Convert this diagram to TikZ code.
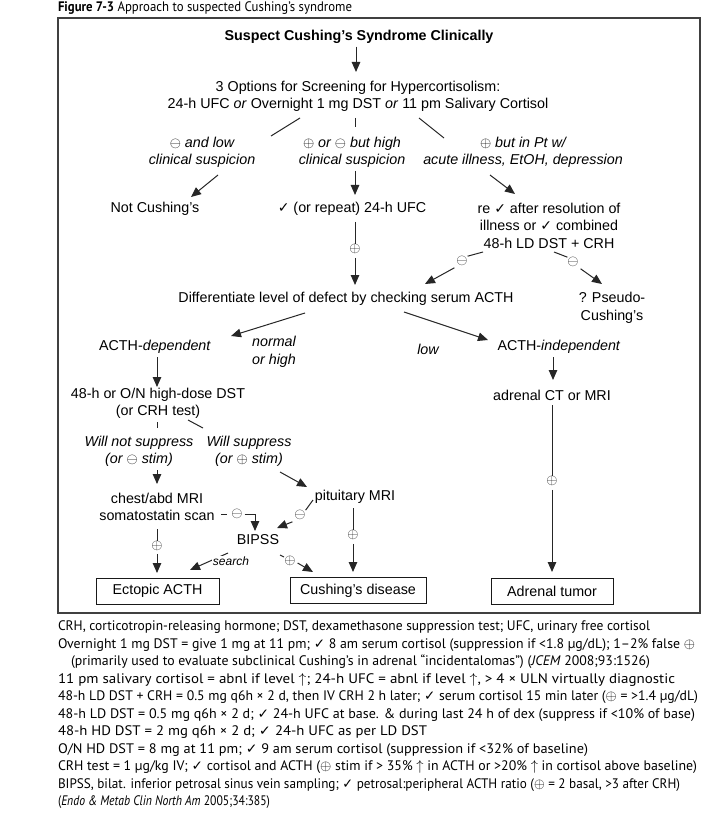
\documentclass[tikz,border=0pt]{standalone}
\usepackage{graphicx}
\usepackage{fontspec}
\setmainfont{Liberation Sans}
\newfontfamily\gillf{PT Sans}
\newfontfamily\djf{DejaVu Sans}
\usetikzlibrary{arrows.meta,calc}
\newcommand{\ck}{{\djf\fontsize{14}{10}\selectfont\char"2713}}
\newcommand{\fck}{{\djf\bfseries\fontsize{13.5}{10}\selectfont\char"2713}}
\newcommand{\pl}{$\oplus$}
\newcommand{\mi}{$\ominus$}
\newcommand{\fpl}{{\fontsize{15}{14}\selectfont$\oplus$}}
\newcommand{\fnl}[2]{\resizebox{#1pt}{\height}{#2}}
\begin{document}
\begin{tikzpicture}[x=1pt,y=-1pt,
  every node/.style={inner sep=0pt, outer sep=0pt, font=\fontsize{14.3}{17.5}\selectfont},
  arr/.style={draw=black!85, line width=1pt, -{Triangle[length=10pt,width=8.5pt]}},
  ln/.style={draw=black!85, line width=1pt},
  lab/.style={align=center, font=\itshape\fontsize{14.3}{17.5}\selectfont},
  txt/.style={align=center},
  sym/.style={font=\fontsize{14}{14}\selectfont, text=black!85},
  endbox/.style={draw=black!90, line width=0.9pt, minimum height=26pt},
  fn/.style={anchor=mid west, font=\gillf\fontsize{13.8}{15}\selectfont}]
\fill[white] (0,0) rectangle (706,826);
\useasboundingbox (0,0) rectangle (706,826);

% caption and frame
\node[fn] (cap) at (58,9) {\fnl{294}{\textbf{Figure 7-3} Approach to suspected Cushing’s syndrome}};
\draw[draw=black!75, line width=1.3pt] (58,18) rectangle (700,613);

% nodes
\node[font=\bfseries\fontsize{14.3}{17}\selectfont] (title) at (359,37) {Suspect Cushing’s Syndrome Clinically};
\node[txt] (screen) at (358,96.5) {3 Options for Screening for Hypercortisolism:\\24-h UFC \textit{or} Overnight 1 mg DST \textit{or} 11 pm Salivary Cortisol};
\node[lab] (lab1) at (202,152.5) {\mi\ and low\\clinical suspicion};
\node[lab] (lab2) at (352,152.5) {\pl\ or \mi\ but high\\clinical suspicion};
\node[lab] (lab3) at (523,152.5) {\pl\ but in Pt w/\\acute illness, EtOH, depression};
\node (notc) at (155,209) {Not Cushing’s};
\node (ufc) at (352,209) {\ck\ (or repeat) 24-h UFC};
\node[txt] (re) at (549,225.5) {re \ck\ after resolution of\\illness or \ck\ combined\\48-h LD DST + CRH};
\node[sym] (p1) at (355,249) {\pl};
\node[sym] (m1) at (462,261) {\mi};
\node[sym] (m2) at (573,262) {\mi};
\node (diff) at (346,299) {Differentiate level of defect by checking serum ACTH};
\node[txt] (pseudo) at (612,308) {? Pseudo-\\Cushing’s};
\node (dep) at (155,347) {ACTH-\textit{dependent}};
\node[lab] (normal) at (274,352) {normal\\or high};
\node[lab] (low) at (428,349) {low};
\node (indep) at (559,347) {ACTH-\textit{independent}};
\node[txt] (hd) at (158,403.5) {48-h or O/N high-dose DST\\(or CRH test)};
\node (adct) at (552,395) {adrenal CT or MRI};
\node[lab] (wns) at (139,451.5) {Will not suppress\\(or \mi\ stim)};
\node[lab] (ws) at (249,451.5) {Will suppress\\(or \pl\ stim)};
\node[txt] (chest) at (157,507) {chest/abd MRI\\somatostatin scan};
\node (pit) at (355,497) {pituitary MRI};
\node[sym] (m3) at (237,514) {\mi};
\node[sym] (m4) at (300,515) {\mi};
\node (bipss) at (258,540) {BIPSS};
\node[sym] (p2) at (157,546) {\pl};
\node[sym] (p3) at (353,535) {\pl};
\node[sym] (p4) at (290,561) {\pl};
\node[sym] (p5) at (552,481) {\pl};
\node[endbox, minimum width=123pt] (ect) at (157.5,591) {Ectopic ACTH};
\node[endbox, minimum width=136pt] (cd) at (358,590.5) {Cushing’s disease};
\node[endbox, minimum width=122pt] (adr) at (552,591) {Adrenal tumor};

% connectors
\draw[arr] (title.south) ++(-3,3) coordinate (t0) -- (t0 |- 0,72) coordinate (t1);
\coordinate (a1) at (300,118); \coordinate (a2) at (271,136);
\coordinate (b1) at (355,118); \coordinate (b2) at (355,127);
\coordinate (c1) at (419,118); \coordinate (c2) at (444,138);
\draw[ln] (a1) -- (a2);
\draw[ln] (b1) -- (b2);
\draw[ln] (c1) -- (c2);
\coordinate (d1) at (218,175); \coordinate (d2) at (191,197);
\draw[arr] (d1) -- (d2);
\draw[arr] (lab2.south -| 355,0) ++(0,3) -- (355,195);
\coordinate (e1) at (490,175); \coordinate (e2) at (515,194);
\draw[arr] (e1) -- (e2);
\draw[ln] (355,222) -- (p1.north);
\draw[arr] (p1.south) ++(0,4) -- (355,285);
\draw[ln] (483,252) -- (m1.north east);
\draw[arr] (m1.south west) ++(-2,2) -- (425,284);
\draw[ln] (554,252) -- (m2.north west);
\draw[arr] (m2.south east) ++(2,2) -- (602,284);
\draw[arr] (305,313) -- (231,336);
\draw[arr] (404,312) -- (488,340);
\draw[arr] (157,357) -- (157,387);
\draw[arr] (553,357) -- (553,380);
\draw[ln] (157,422) -- (157,428);
\draw[ln] (188,420) -- (203,428);
\draw[arr] (157,470) -- (157,484);
\draw[arr] (280,472) -- (307,487);
\draw[ln] (221,514) -- (227,514);
\draw[arr] (m3.east) ++(2,0) -- (255,514) -- (255,531);
\draw[ln] (313,500) -- (m4.north east);
\draw[arr] (m4.south west) ++(-2,2) -- (277,528);
\draw[ln] (157,529) -- (p2.north);
\draw[arr] (p2.south) ++(0,3) -- (157,573);
\draw[ln] (353,508) -- (p3.north);
\draw[arr] (p3.south) ++(0,4) -- (353,572);
\draw[arr] (228,553) -- (190,570);
\node[lab, fill=white, inner sep=1pt, font=\itshape\fontsize{12}{12}\selectfont] (search) at (231,561) {search};
\draw[ln] (280,555) -- (284,557);
\draw[arr] (p4.east) ++(2,2) -- (313,572);
\draw[ln] (552,405) -- (p5.north);
\draw[arr] (p5.south) ++(0,4) -- (552,572);

% footnotes
\node[fn] (f1) at (58,628) {\fnl{592}{CRH, corticotropin-releasing hormone; DST, dexamethasone suppression test; UFC, urinary free cortisol}};
\node[fn] (f2) at (58,645.5) {\fnl{637}{Overnight 1 mg DST = give 1 mg at 11 pm; \fck\ 8 am serum cortisol (suppression if <1.8 µg/dL); 1–2\% false \fpl}};
\node[fn] (f3) at (71,663) {\fnl{579}{(primarily used to evaluate subclinical Cushing’s in adrenal “incidentalomas”) (\textit{JCEM} 2008;93:1526)}};
\node[fn] (f4) at (58,680.5) {\fnl{617}{11 pm salivary cortisol = abnl if level $\uparrow$; 24-h UFC = abnl if level $\uparrow$, > 4 × ULN virtually diagnostic}};
\node[fn] (f5) at (58,698) {\fnl{640}{48-h LD DST + CRH = 0.5 mg q6h × 2 d, then IV CRH 2 h later; \fck\ serum cortisol 15 min later (\fpl\ = >1.4 µg/dL)}};
\node[fn] (f6) at (58,715.5) {\fnl{637}{48-h LD DST = 0.5 mg q6h × 2 d; \fck\ 24-h UFC at base. \& during last 24 h of dex (suppress if <10\% of base)}};
\node[fn] (f7) at (58,733) {\fnl{369}{48-h HD DST = 2 mg q6h × 2 d; \fck\ 24-h UFC as per LD DST}};
\node[fn] (f8) at (58,750.5) {\fnl{530}{O/N HD DST = 8 mg at 11 pm; \fck\ 9 am serum cortisol (suppression if <32\% of baseline)}};
\node[fn] (f9) at (58,768) {\fnl{639}{CRH test = 1 µg/kg IV; \fck\ cortisol and ACTH (\fpl\ stim if > 35\% $\uparrow$ in ACTH or >20\% $\uparrow$ in cortisol above baseline)}};
\node[fn] (f10) at (58,785.5) {\fnl{622}{BIPSS, bilat. inferior petrosal sinus vein sampling; \fck\ petrosal:peripheral ACTH ratio (\fpl\ = 2 basal, >3 after CRH)}};
\node[fn] (f11) at (58,803) {\fnl{212}{(\textit{Endo \& Metab Clin North Am} 2005;34:385)}};
\end{tikzpicture}
\end{document}
